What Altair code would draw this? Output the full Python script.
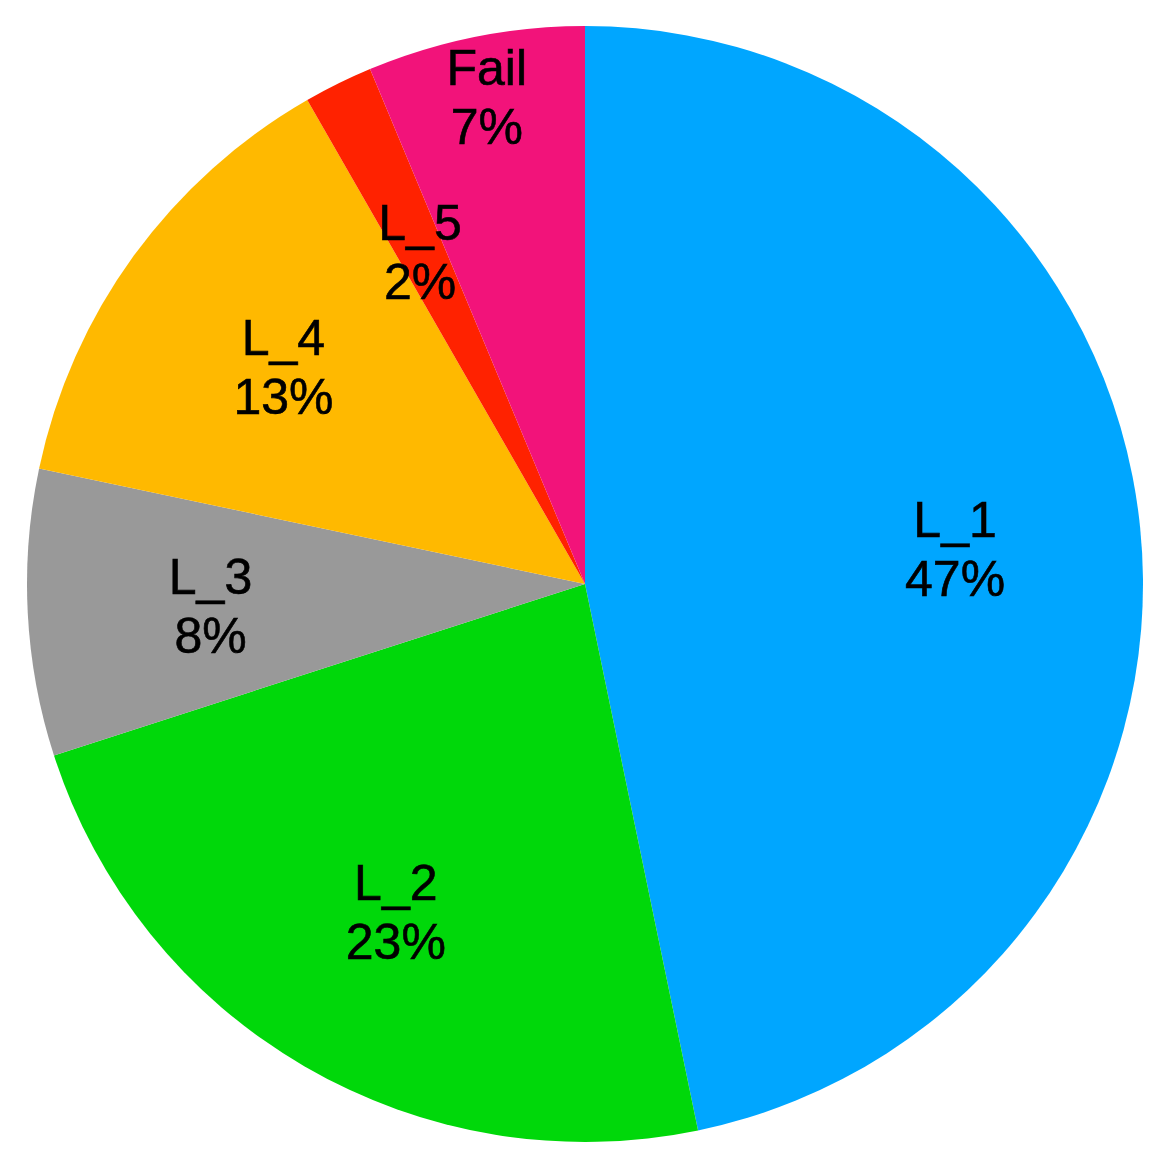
import altair as alt
import pandas as pd

categories = ["L_1", "L_2", "L_3", "L_4", "L_5", "Fail"]
values = [46.8, 23.3, 8.3, 13.4, 2.0, 6.3]
pct_labels = ["47%", "23%", "8%", "13%", "2%", "7%"]
colors = ["#00A6FF", "#00D80A", "#999999", "#FFB900", "#FF2200", "#F2137A"]
label_radius = [372, 376, 375, 373, 373, 500]

df = pd.DataFrame({
    "cat": categories,
    "value": values,
    "order": list(range(len(categories))),
    "label": [f"{c}\n{p}" for c, p in zip(categories, pct_labels)],
    "r": label_radius,
})

arcs = alt.Chart(df).mark_arc(outerRadius=558, stroke=None).encode(
    theta=alt.Theta("value:Q", stack=True),
    order=alt.Order("order:Q", sort="ascending"),
    color=alt.Color("cat:N", scale=alt.Scale(domain=categories, range=colors), legend=None),
)

texts = alt.Chart(df).transform_window(
    cum="sum(value)", sort=[alt.SortField("order", order="ascending")], frame=[None, 0]
).transform_joinaggregate(
    total="sum(value)"
).transform_calculate(
    mid="(datum.cum - datum.value / 2) / datum.total * 2 * PI"
).mark_text(
    font="Liberation Sans", fontSize=50, lineBreak="\n", lineHeight=59,
    color="black", stroke="black", strokeWidth=0.6,
    align="center", baseline="middle", dy=-24,
).encode(
    theta=alt.Theta("mid:Q", scale=None),
    radius=alt.Radius("r:Q", scale=None),
    text="label:N",
)

chart = alt.layer(arcs, texts).resolve_scale(
    theta="independent", radius="independent"
).properties(
    width=1154, height=1152, padding=0, autosize=alt.AutoSizeParams(type="none"),
).configure_view(stroke=None)

chart.save("out.html", embed_options={"renderer": "svg", "actions": False})
